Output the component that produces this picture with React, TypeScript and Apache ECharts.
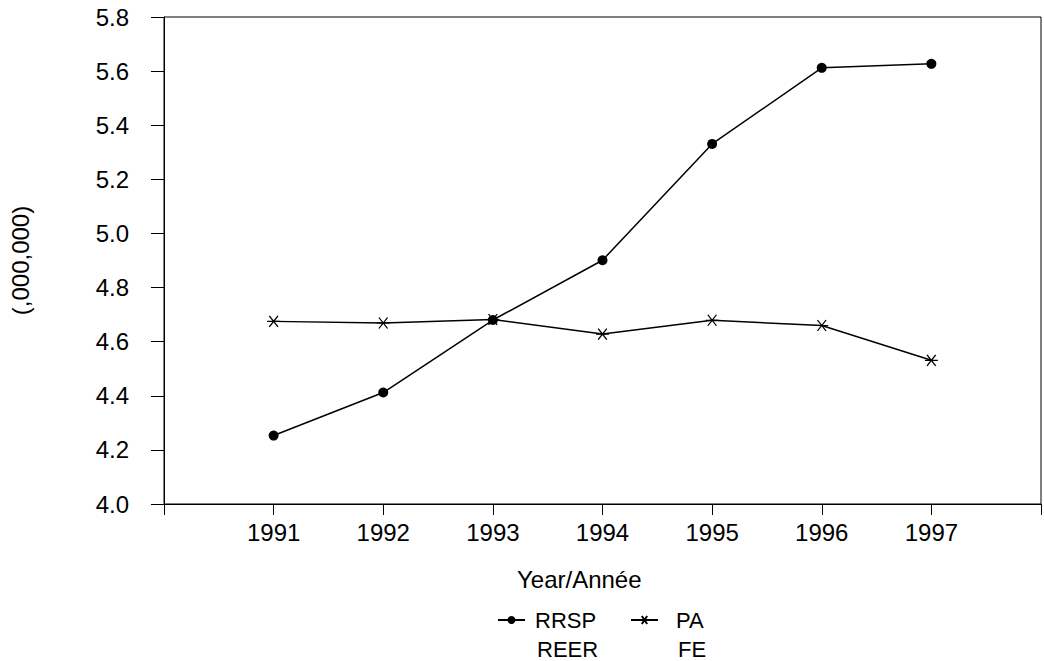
import React, { useEffect, useRef } from "react";
import * as echarts from "echarts";

const years = [1991, 1992, 1993, 1994, 1995, 1996, 1997];
const rrspValues = [4.253, 4.412, 4.68, 4.901, 5.331, 5.612, 5.627];
const paValues = [4.675, 4.669, 4.682, 4.628, 4.679, 4.66, 4.531];
const yTicks = { min: 4.0, max: 5.8, interval: 0.2 };
const xRange = { min: 1990, max: 1998 };

const FONT = "Liberation Sans, Arial, sans-serif";
const STAR = "path://M0,5 L12,5 M2,0 L10,10 M10,0 L2,10";

export default function App() {
  const ref = useRef<HTMLDivElement>(null);
  useEffect(() => {
    if (!ref.current) return;
    const chart = echarts.init(ref.current, null, { renderer: "svg" });
    const rrsp = years.map((y, i) => [y, rrspValues[i]]);
    const pa = years.map((y, i) => [y, paValues[i]]);
    chart.setOption({
      animation: false,
      backgroundColor: "#fff",
      textStyle: { fontFamily: FONT, color: "#000" },
      grid: {
        left: 163,
        top: 17,
        width: 891,
        height: 487,
        show: true,
        borderColor: "#000",
        borderWidth: 1,
        backgroundColor: "transparent",
      },
      xAxis: {
        type: "value",
        min: xRange.min,
        max: xRange.max,
        interval: 1,
        splitLine: { show: false },
        axisLine: { show: true, lineStyle: { color: "#000", width: 1 } },
        axisTick: { show: true, length: 11, lineStyle: { color: "#000" } },
        axisLabel: {
          fontSize: 24,
          fontFamily: FONT,
          color: "#000",
          margin: 16,
          formatter: (v: number) => (v >= 1991 && v <= 1997 ? String(v) : ""),
        },
      },
      yAxis: {
        type: "value",
        min: yTicks.min,
        max: yTicks.max,
        interval: yTicks.interval,
        splitLine: { show: false },
        axisLine: { show: true, lineStyle: { color: "#000", width: 1 } },
        axisTick: { show: true, length: 13, lineStyle: { color: "#000" } },
        axisLabel: {
          fontSize: 24,
          fontFamily: FONT,
          color: "#000",
          margin: 35,
          formatter: (v: number) => v.toFixed(1),
        },
        name: "(,000,000)",
        nameLocation: "middle",
        nameGap: 132,
        nameRotate: 90,
        nameTextStyle: { fontSize: 24, fontFamily: FONT, color: "#000" },
      },
      legend: [
        {
          data: ["RRSP"],
          left: 492,
          top: 604,
          itemWidth: 27,
          itemHeight: 10,
          textStyle: { fontSize: 22, fontFamily: FONT, color: "#000", padding: [0, 0, 0, 5] },
        },
        {
          data: ["PA"],
          left: 625,
          top: 604,
          itemWidth: 27,
          itemHeight: 10,
          textStyle: { fontSize: 22, fontFamily: FONT, color: "#000", padding: [0, 0, 0, 13] },
        },
      ],
      graphic: [
        {
          type: "text",
          left: 517,
          top: 567,
          style: { text: "Year/Année", fontSize: 24, fontFamily: FONT, fill: "#000" },
        },
        {
          type: "text",
          left: 537,
          top: 638,
          style: { text: "REER", fontSize: 22, fontFamily: FONT, fill: "#000" },
        },
        {
          type: "text",
          left: 678,
          top: 638,
          style: { text: "FE", fontSize: 22, fontFamily: FONT, fill: "#000" },
        },
      ],
      series: [
        {
          name: "RRSP",
          type: "line",
          data: rrsp,
          symbol: "circle",
          symbolSize: 10,
          itemStyle: { color: "#000" },
          lineStyle: { color: "#000", width: 1.5 },
        },
        {
          name: "PA",
          type: "line",
          data: pa,
          symbol: STAR,
          symbolSize: [13, 11],
          itemStyle: { color: "transparent", borderColor: "#000", borderWidth: 1.2 },
          lineStyle: { color: "#000", width: 1.5 },
        },
      ],
    });
    return () => chart.dispose();
  }, []);
  return (
    <div
      ref={ref}
      style={{ position: "fixed", left: 0, top: 0, width: 1044, height: 661, background: "#fff" }}
    />
  );
}
